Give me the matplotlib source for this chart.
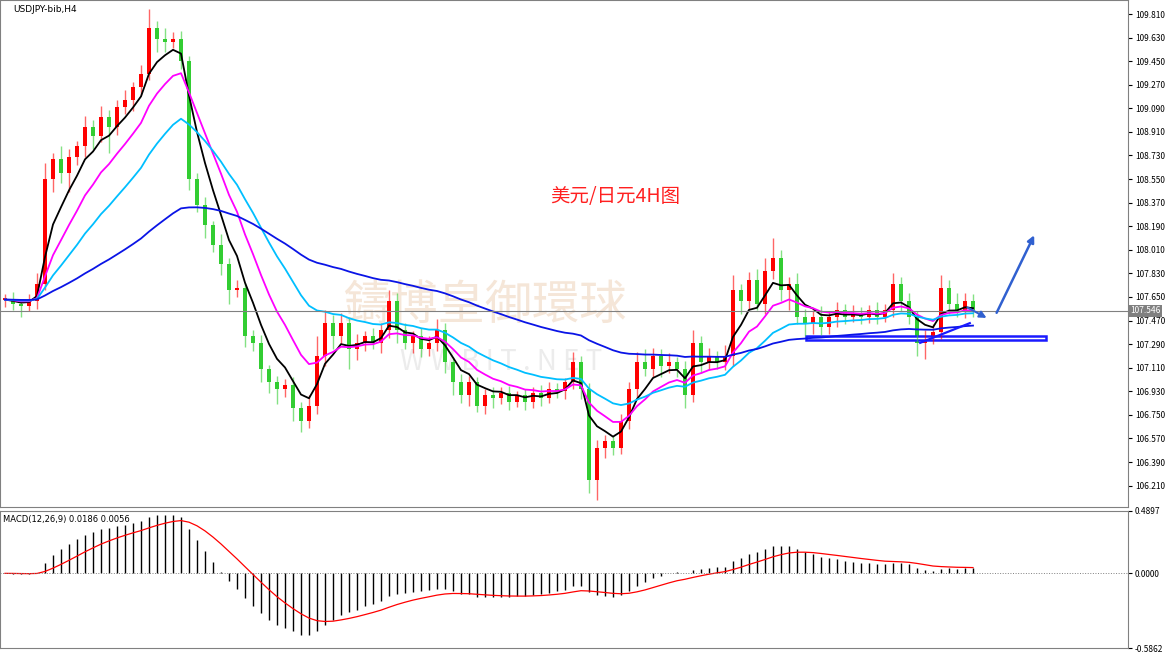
import numpy as np
import pandas as pd
import matplotlib.pyplot as plt
from matplotlib.patches import Rectangle

plt.rcParams['font.family'] = ['Noto Sans CJK SC', 'DejaVu Sans']

# closes (USDJPY H4)
closes = [107.63,107.60,107.58,107.62,107.75,108.55,108.70,108.60,108.72,108.80,
          108.95,108.88,109.02,108.95,109.10,109.15,109.25,109.35,109.70,109.62,
          109.60,109.62,109.45,108.55,108.35,108.20,108.05,107.90,107.70,107.72,
          107.35,107.30,107.10,107.00,106.95,106.98,106.80,106.70,106.82,107.20,
          107.45,107.35,107.45,107.25,107.30,107.35,107.30,107.40,107.62,107.40,
          107.30,107.35,107.25,107.30,107.40,107.15,107.00,106.90,107.00,106.82,
          106.90,106.88,106.92,106.85,106.90,106.85,106.92,106.88,106.95,106.93,
          107.00,107.15,106.95,106.25,106.50,106.55,106.50,106.70,106.95,107.15,
          107.10,107.20,107.12,107.15,107.10,106.90,107.30,107.15,107.20,107.15,
          107.20,107.70,107.62,107.78,107.60,107.85,107.95,107.70,107.75,107.50,
          107.45,107.50,107.42,107.50,107.55,107.50,107.52,107.50,107.55,107.50,
          107.55,107.75,107.62,107.50,107.30,107.35,107.38,107.72,107.60,107.55,
          107.62,107.55]
# wick sizes in hundredths of a yen
up_wick = [4,6,3,5,8,12,5,10,6,4,8,5,9,6,5,8,4,7,15,6,8,5,6,4,5,6,3,8,5,6,
           4,5,6,3,5,4,6,5,8,15,10,6,8,5,7,4,6,5,8,6,5,4,6,5,8,5,4,6,5,4,
           5,6,4,5,3,5,4,6,5,4,3,8,5,4,6,5,4,6,5,8,10,6,5,7,4,6,10,5,6,4,
           8,12,5,6,8,10,15,6,5,8,6,5,8,4,6,5,7,5,4,6,5,8,5,6,4,5,6,10,6,8,
           6,5]
dn_wick = [6,5,8,4,6,5,10,8,15,6,8,10,5,20,6,5,8,6,4,10,8,5,6,8,5,10,6,8,10,5,
           8,6,10,8,12,6,10,8,5,6,8,10,6,15,8,6,5,8,6,10,5,8,6,5,6,8,10,6,8,5,
           6,8,5,6,4,6,5,6,4,5,6,5,8,10,15,8,6,5,6,8,5,6,8,5,6,10,5,8,6,5,
           6,8,10,6,5,8,6,8,15,6,10,8,6,5,8,6,4,6,5,6,4,5,8,6,10,12,6,5,8,5,
           6,5]

ma_periods = [5, 10, 20, 60]
ma_colors = ['black', '#ff00ff', '#00bfff', '#0a14e6']

c = np.array(closes)
o = np.r_[c[0], c[:-1]]
hi = np.maximum(o, c) + np.array(up_wick) / 100
lo = np.minimum(o, c) - np.array(dn_wick) / 100
idx = np.arange(len(c))
s = pd.Series(c)

fig = plt.figure(figsize=(11.7, 6.56), dpi=100)
ax = fig.add_axes([0, 1 - 507/656, 1128/1170, 507/656])
ax2 = fig.add_axes([0, 8/656, 1128/1170, 137/656])

for i in idx:
    col = '#ff0000' if c[i] >= o[i] else '#32cd32'
    ax.vlines(i, lo[i], hi[i], color=col, lw=1, alpha=0.6)
    b = max(abs(c[i] - o[i]), 0.01)
    ax.add_patch(Rectangle((i - 0.3, min(o[i], c[i])), 0.6, b, color=col, lw=0))

for p, col in zip(ma_periods, ma_colors):
    ax.plot(idx, s.ewm(span=p, adjust=False).mean(), color=col, lw=1.3)

last = 107.546
ax.axhline(last, color='#808080', lw=0.8)
ax.text(1.002, last, '107.546', transform=ax.get_yaxis_transform(), fontsize=6,
        va='center', color='white', bbox=dict(fc='#808080', ec='none', pad=1))

# drawn annotations
ax.add_patch(Rectangle((100.1, 107.325), 130.1 - 100.1, 0.025, fc='white', ec='#1a1aff', lw=1.8))
ax.plot([114.4, 120.6], [107.30, 107.45], color='#1a1aff', lw=1.6)
ax.annotate('', xy=(123, 107.48), xytext=(120, 107.58),
            arrowprops=dict(arrowstyle='-|>', color='#3060d0', lw=1.5))
ax.annotate('', xy=(128.8, 108.14), xytext=(123.8, 107.51),
            arrowprops=dict(arrowstyle='-|>', color='#3060d0', lw=1.8))
ax.text(76.3, 108.42, '美元/日元4H图', color='#ff2020', fontsize=14, ha='center', va='center')
ax.text(60, 107.58, '鑄博皇御環球', color='#f5e6d8', fontsize=34, ha='center', va='center', zorder=0)
ax.text(62, 107.15, 'W W B I T . N E T', color='#ececec', fontsize=20, ha='center', va='center', zorder=0)
ax.text(0.012, 0.99, 'USDJPY-bib,H4', transform=ax.transAxes, fontsize=6.5, va='top',
        family='DejaVu Sans')

xl = (-0.625, (1128 - 5) / 8)
ax.set_xlim(xl)
ax.set_ylim(109.81 - 493/131, 109.81 + 14/131)
ax.yaxis.tick_right()
ax.set_yticks(np.round(np.arange(106.21, 109.82, 0.18), 3))
ax.set_yticklabels([f'{v:.3f}' for v in np.arange(106.21, 109.82, 0.18)], fontsize=6)
ax.set_xticks([])
ax.tick_params(axis='y', length=3, pad=2)

# MACD(12,26,9)
ema12 = s.ewm(span=12, adjust=False).mean()
ema26 = s.ewm(span=26, adjust=False).mean()
macd = ema12 - ema26
sig = macd.ewm(span=9, adjust=False).mean()
ax2.vlines(idx, 0, macd, color='black', lw=1)
ax2.plot(idx, sig, color='red', lw=0.9)
ax2.axhline(0, color='#808080', lw=0.7, ls=':')
ax2.set_xlim(xl)
ax2.set_ylim(-0.5862, 0.4897)
ax2.yaxis.tick_right()
ax2.set_yticks([0.4897, 0.0, -0.5862])
ax2.set_yticklabels(['0.4897', '0.0000', '-0.5862'], fontsize=6)
ax2.set_xticks([])
ax2.tick_params(axis='y', length=3, pad=2)
ax2.text(0.003, 0.97, 'MACD(12,26,9) 0.0186 0.0056', transform=ax2.transAxes, fontsize=6, va='top',
         family='DejaVu Sans')

for a in (ax, ax2):
    for sp in a.spines.values():
        sp.set_color('#808080')
        sp.set_linewidth(0.8)

fig.savefig('out.png', dpi=100)
